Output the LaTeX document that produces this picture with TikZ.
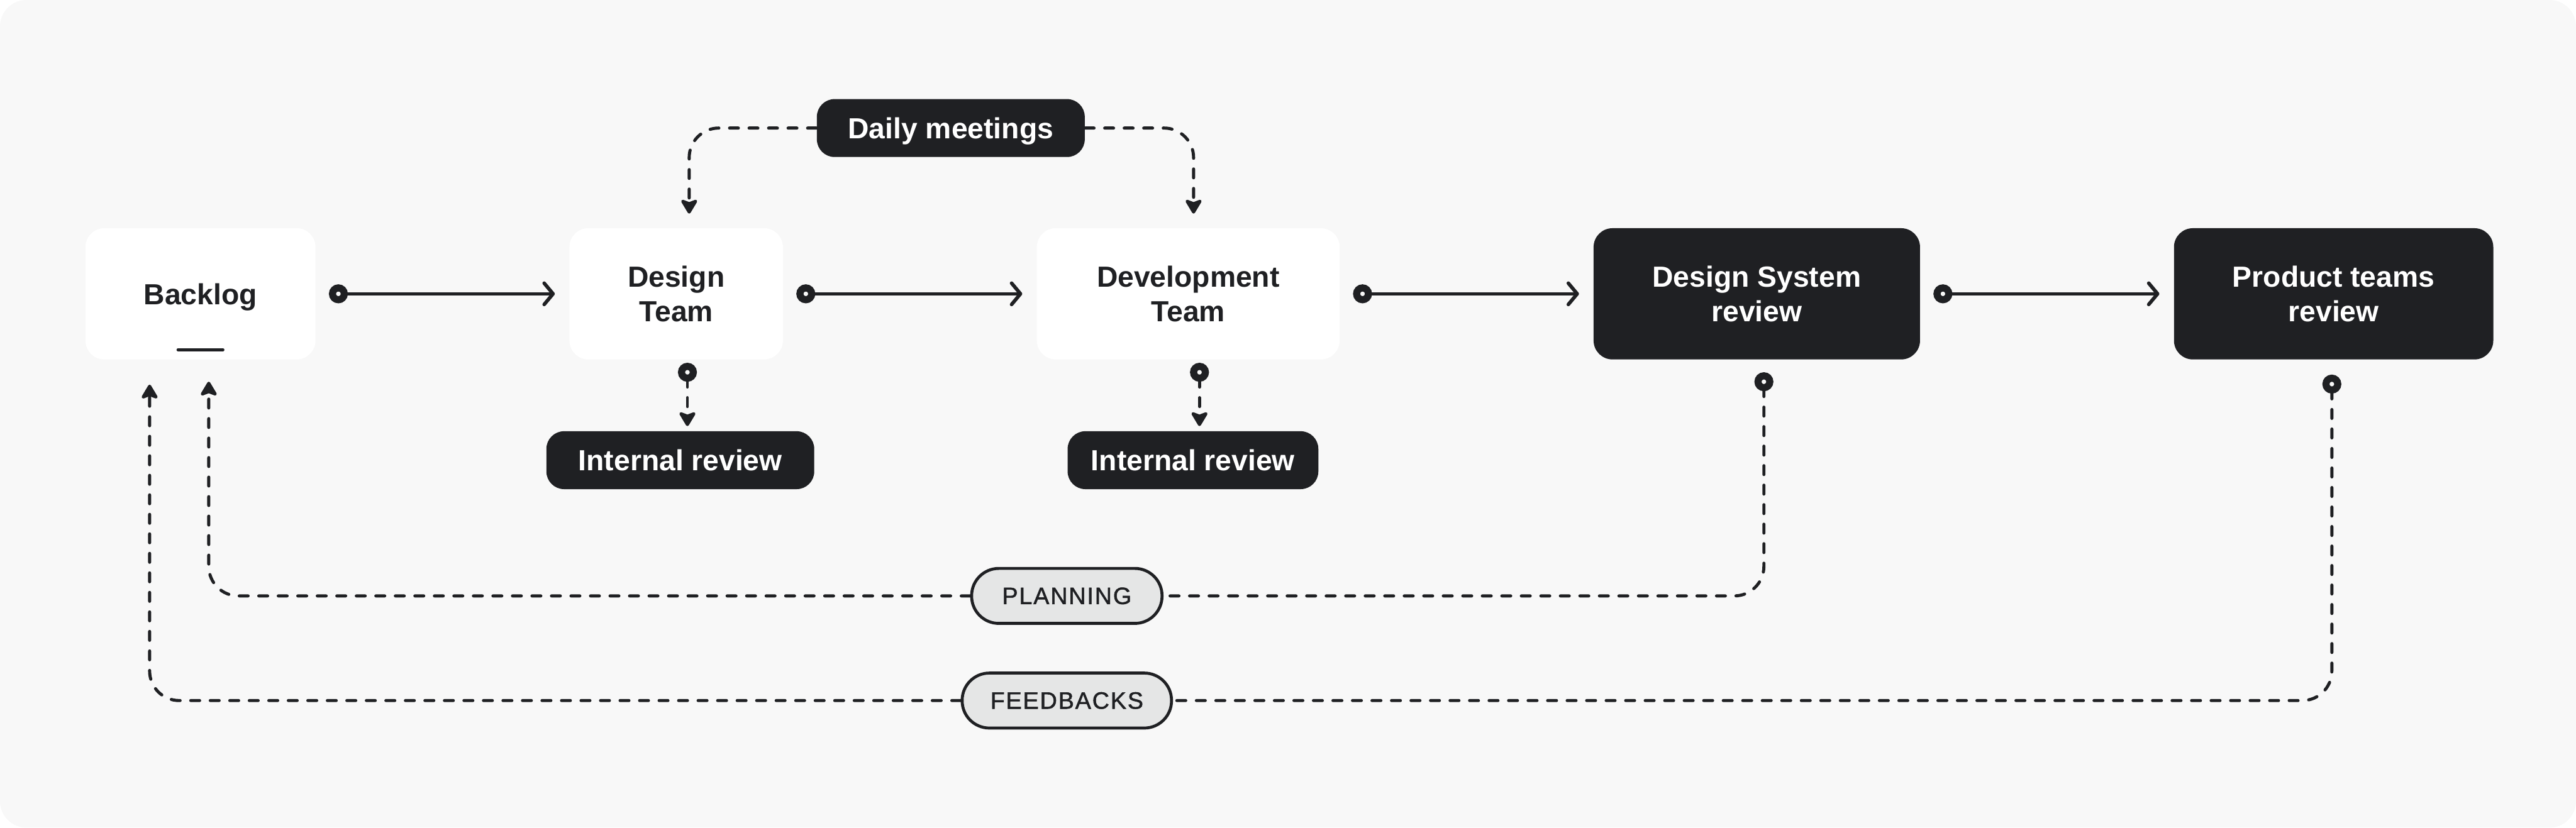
\documentclass[tikz,border=0pt]{standalone}
\usepackage{fontspec}
\setmainfont{Liberation Sans}
\newfontfamily\capsfont[LetterSpace=5, FakeBold=1.4]{Liberation Sans}
\usetikzlibrary{positioning, arrows.meta}
\definecolor{ink}{HTML}{1F2023}
\definecolor{canvas}{HTML}{F8F8F8}
\definecolor{chipgray}{HTML}{E5E6E6}
\tikzset{
  stage/.style={rectangle, rounded corners=0.32cm, fill=white, text=ink, minimum height=2.22cm, align=center, font=\fontsize{14}{16.5}\selectfont\bfseries},
  review/.style={stage, fill=ink, text=white},
  tag/.style={rectangle, rounded corners=0.3cm, fill=ink, text=white, minimum height=0.98cm, text depth=0pt, font=\fontsize{14}{16.5}\selectfont\bfseries},
  chip/.style={rectangle, rounded corners=0.46cm, draw=ink, line width=0.05cm, fill=chipgray, text=ink, minimum height=0.93cm, font=\capsfont\fontsize{11.4}{13}\selectfont},
  ring/.tip={Circle[open, length=0.32cm, width=0.32cm, line width=0.12cm 0]},
  handoff/.style={draw=ink, line width=0.06cm, ring-{Straight Barb[length=0.15cm, width=0.36cm, round]}, shorten <=0.22cm, shorten >=0.24cm},
  sync/.style={draw=ink, line width=0.052cm, line cap=round, dash pattern=on 0.15cm off 0.18cm, rounded corners=0.5cm, -{Stealth[length=0.28cm, width=0.33cm, inset=0.06cm, round]}},
  ringsync/.style={sync, ring-{Stealth[length=0.28cm, width=0.33cm, inset=0.06cm, round]}},
}

\begin{document}
\begin{tikzpicture}
        % Canvas
        \fill[white] (0,0) rectangle (43.56,-14);
        \fill[canvas, rounded corners=0.45cm] (0,0) rectangle (43.56,-14);
        % Stages
        \node[stage, minimum width=3.89cm, text depth=0pt] (backlog) at (3.39,-4.97) {Backlog};
        \node[stage, minimum width=3.61cm, right=4.28cm of backlog] (design) {Design\\Team};
        \node[stage, minimum width=5.12cm, right=4.28cm of design] (dev) {Development\\Team};
        \node[review, minimum width=5.52cm, right=4.28cm of dev] (dsr) {Design System\\review};
        \node[review, minimum width=5.40cm, right=4.28cm of dsr] (ptr) {Product teams\\review};
        \draw[ink, line width=0.05cm, line cap=round] ([xshift=-0.38cm, yshift=0.17cm]backlog.south) -- ++(0.76,0);
        % Tags
        \node[tag, minimum width=4.53cm, above right=1.19cm and 0.56cm of design] (daily) {Daily meetings};
        \node[tag, minimum width=4.53cm, below=1.2cm of design, xshift=0.07cm] (ir1) {Internal review};
        \node[tag, minimum width=4.24cm, below=1.2cm of dev, xshift=0.08cm] (ir2) {Internal review};
        \node[chip, minimum width=3.22cm] (planning) at (18.04,-10.08) {PLANNING};
        \node[chip, minimum width=3.54cm, below=0.79cm of planning] (feedbacks) {FEEDBACKS};
        % Main flow
        \foreach \a/\b in {backlog/design, design/dev, dev/dsr, dsr/ptr}
            \draw[handoff] (\a) -- (\b);
        % Daily meetings
        \draw[sync, shorten >=0.24cm] (daily.west) -| ([xshift=0.22cm]design.north);
        \draw[sync, shorten >=0.24cm] (daily.east) -| ([xshift=0.09cm]dev.north);
        % Internal reviews
        \coordinate (dt) at ([xshift=0.19cm]design.south);
        \coordinate (vt) at ([xshift=0.19cm]dev.south);
        \draw[ringsync, shorten <=0.05cm, shorten >=0.08cm] (dt) -- (dt |- ir1.north);
        \draw[ringsync, shorten <=0.05cm, shorten >=0.08cm] (vt) -- (vt |- ir2.north);
        % Planning and feedbacks
        \draw[sync, ring-, shorten <=0.21cm] ([xshift=0.12cm]dsr.south) |- (planning.east);
        \draw[sync, shorten >=0.37cm] (planning.west) -| ([xshift=0.14cm]backlog.south);
        \draw[sync, ring-, shorten <=0.25cm] ([xshift=-0.03cm]ptr.south) |- (feedbacks.east);
        \draw[sync, shorten >=0.42cm] (feedbacks.west) -| ([xshift=-0.86cm]backlog.south);
\end{tikzpicture}
\end{document}
